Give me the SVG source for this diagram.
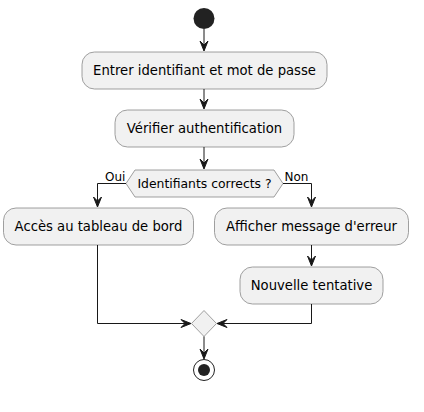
<svg xmlns="http://www.w3.org/2000/svg" width="424" height="412" viewBox="0 0 424 412">
<style>
.act{fill:#F1F1F1;stroke:#888888;stroke-width:0.8}
.t{font-family:"DejaVu Sans",sans-serif;font-size:13.2px;fill:#000}
.d{font-family:"DejaVu Sans",sans-serif;font-size:12.4px;fill:#000}
.lbl{font-family:"DejaVu Sans",sans-serif;font-size:12px;fill:#000}
.ln{fill:none;stroke:#181818;stroke-width:1}
.ah{fill:#181818;stroke:#181818;stroke-width:1}
</style>
<rect width="424" height="412" fill="#FFFFFF"/>
<g id="start"><circle cx="204" cy="18.5" r="10.5" fill="#222222"/></g>
<g id="n1"><rect class="act" x="82" y="52" width="245" height="37" rx="12.5"/><text class="t" x="204.5" y="75" text-anchor="middle">Entrer identifiant et mot de passe</text></g>
<g id="n2"><rect class="act" x="115" y="110" width="179" height="37" rx="12.5"/><text class="t" x="204.5" y="133" text-anchor="middle">Vérifier authentification</text></g>
<g id="dec"><polygon class="act" points="126,183.5 135,170 274,170 283,183.5 274,197 135,197"/><text class="d" x="204.5" y="188" text-anchor="middle">Identifiants corrects ?</text></g>
<g id="n3"><rect class="act" x="3.5" y="208" width="190" height="37" rx="12.5"/><text class="t" x="98.5" y="231" text-anchor="middle">Accès au tableau de bord</text></g>
<g id="n4"><rect class="act" x="214.5" y="208" width="194" height="37" rx="12.5"/><text class="t" x="311.5" y="231" text-anchor="middle">Afficher message d'erreur</text></g>
<g id="n5"><rect class="act" x="240" y="267" width="143" height="37" rx="12.5"/><text class="t" x="311.5" y="290" text-anchor="middle">Nouvelle tentative</text></g>
<g id="merge"><polygon class="act" points="204,310.5 216.5,323.5 204,336.5 191.5,323.5"/></g>
<g id="end"><circle cx="204" cy="370" r="10.5" fill="none" stroke="#222222" stroke-width="1"/><circle cx="204" cy="370" r="6" fill="#222222"/></g>
<g id="connectors">
<path class="ln" d="M204,29 V50"/><polygon class="ah" points="200,41 204,51 208,41 204,45"/>
<path class="ln" d="M204,89 V108"/><polygon class="ah" points="200,99 204,109 208,99 204,103"/>
<path class="ln" d="M204,147 V168"/><polygon class="ah" points="200,159 204,169 208,159 204,163"/>
<path class="ln" d="M126,183.5 H97.5 V206"/><polygon class="ah" points="93.5,197 97.5,207 101.5,197 97.5,201"/>
<text class="lbl" x="105" y="180.5">Oui</text>
<path class="ln" d="M283,183.5 H311.5 V206"/><polygon class="ah" points="307.5,197 311.5,207 315.5,197 311.5,201"/>
<text class="lbl" x="284.5" y="180.5">Non</text>
<path class="ln" d="M311.5,245 V265"/><polygon class="ah" points="307.5,256 311.5,266 315.5,256 311.5,260"/>
<path class="ln" d="M97.5,245 V323.5 H190"/><polygon class="ah" points="181,319.5 191,323.5 181,327.5 185,323.5"/>
<path class="ln" d="M311.5,304 V323.5 H218"/><polygon class="ah" points="227,319.5 217,323.5 227,327.5 223,323.5"/>
<path class="ln" d="M204,336.5 V358"/><polygon class="ah" points="200,349 204,359 208,349 204,353"/>
</g>
</svg>
